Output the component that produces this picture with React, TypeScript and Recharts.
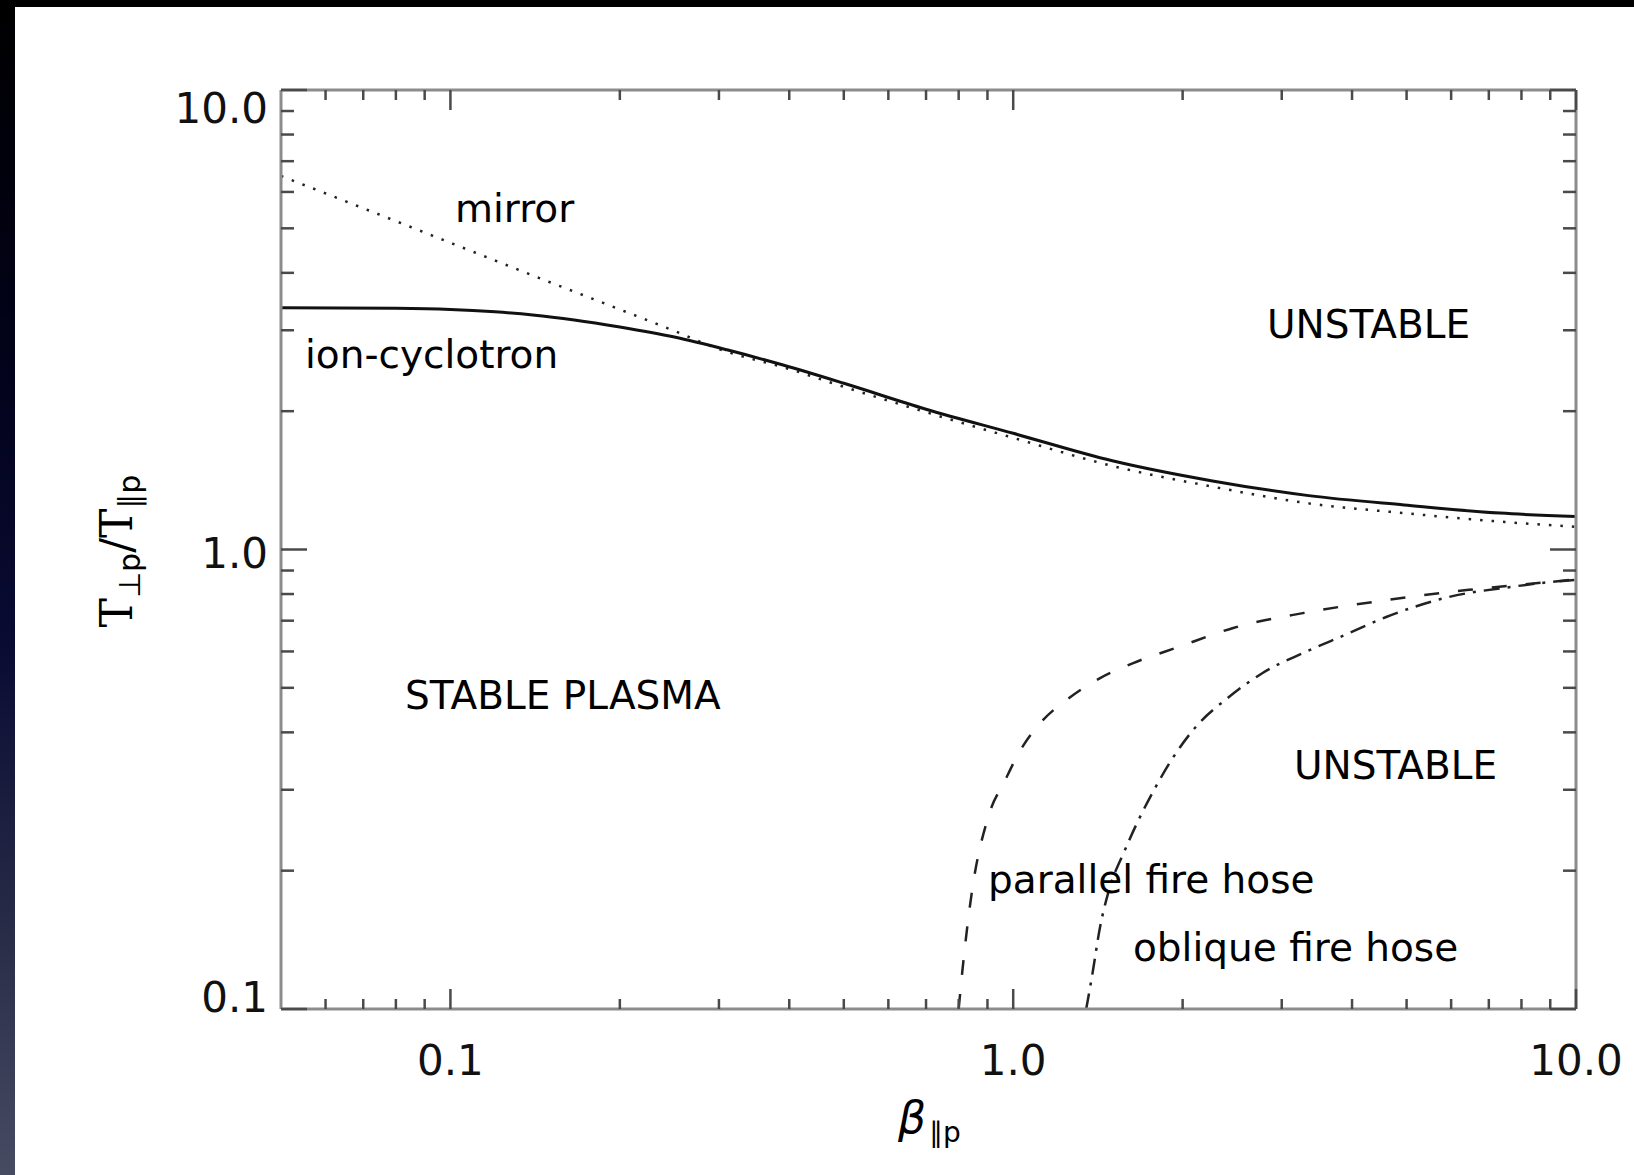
import { LineChart, Line, XAxis, YAxis } from 'recharts'

// beta_parallel_p (x) and T_perp/T_par (y) thresholds
const ionCyclotronBeta = [0.05, 0.08, 0.1, 0.12, 0.14, 0.166, 0.2, 0.25, 0.31, 0.39, 0.5, 0.7, 1.0, 1.5, 2.26, 3.35, 4.95, 7.33, 10]
const ionCyclotronRatio = [3.36, 3.35, 3.33, 3.29, 3.24, 3.16, 3.05, 2.9, 2.72, 2.52, 2.3, 2.02, 1.79, 1.56, 1.41, 1.31, 1.25, 1.2, 1.18]

const mirrorBeta = [0.05, 0.07, 0.1, 0.15, 0.2, 0.25, 0.3, 0.4, 0.5, 0.7, 1.0, 1.5, 2.26, 3.35, 4.95, 7.33, 10]
const mirrorRatio = [6.5, 5.53, 4.65, 3.82, 3.33, 2.99, 2.73, 2.47, 2.26, 1.99, 1.75, 1.52, 1.37, 1.26, 1.2, 1.15, 1.12]

const parallelHoseBeta = [0.8, 0.815, 0.844, 0.903, 0.968, 1.025, 1.117, 1.257, 1.427, 1.634, 1.97, 2.46, 3.27, 4.6, 6.45, 10]
const parallelHoseRatio = [0.1, 0.126, 0.179, 0.262, 0.315, 0.362, 0.419, 0.475, 0.525, 0.566, 0.614, 0.675, 0.727, 0.776, 0.817, 0.859]

const obliqueHoseBeta = [1.348, 1.38, 1.427, 1.475, 1.58, 1.66, 1.78, 1.91, 2.11, 2.42, 2.77, 3.27, 3.89, 4.6, 5.94, 7.66, 10]
const obliqueHoseRatio = [0.1, 0.1175, 0.151, 0.179, 0.222, 0.254, 0.3, 0.348, 0.411, 0.478, 0.538, 0.595, 0.652, 0.713, 0.788, 0.829, 0.862]

const betaTicks = [0.06, 0.07, 0.08, 0.09, 0.1, 0.2, 0.3, 0.4, 0.5, 0.6, 0.7, 0.8, 0.9, 1, 2, 3, 4, 5, 6, 7, 8, 9, 10]
const ratioTicks = [0.1, 0.2, 0.3, 0.4, 0.5, 0.6, 0.7, 0.8, 0.9, 1, 2, 3, 4, 5, 6, 7, 8, 9, 10]
const majorTicks = [0.1, 1, 10]
const tickLabels: Record<string, string> = { '0.1': '0.1', '1': '1.0', '10': '10.0' }

const zip = (xs: number[], ys: number[]) => xs.map((x, i) => ({ x, y: ys[i] }))
const ionCyclotron = zip(ionCyclotronBeta, ionCyclotronRatio)
const mirror = zip(mirrorBeta, mirrorRatio)
const parallelHose = zip(parallelHoseBeta, parallelHoseRatio)
const obliqueHose = zip(obliqueHoseBeta, obliqueHoseRatio)

const W = 1634
const H = 1175
const FONT = '"DejaVu Sans", sans-serif'
const TICK_COLOR = '#4a4a4a'
const AXIS_COLOR = '#8c8c8c'

// y offset of y-tick labels relative to the tick (IDL keeps them inside the range)
const yLabelShift: Record<string, number> = { '0.1': 3, '1': 18, '10': 33 }

function XTick({ x, y, payload, side }: any) {
  const v = payload.value
  const major = majorTicks.includes(v)
  const len = major ? 20 : 10
  const dir = side === 'bottom' ? -1 : 1
  return (
    <g>
      <line x1={x} y1={y} x2={x} y2={y + dir * len} stroke={TICK_COLOR} strokeWidth={2.5} />
      {side === 'bottom' && major && (
        <text x={x} y={y + 66} textAnchor="middle" fontFamily={FONT} fontSize={42} fill="#111">
          {tickLabels[String(v)]}
        </text>
      )}
    </g>
  )
}

function YTick({ x, y, payload, side }: any) {
  const v = payload.value
  const major = majorTicks.includes(v)
  const len = major ? 26 : 13
  const dir = side === 'left' ? 1 : -1
  return (
    <g>
      <line x1={x} y1={y} x2={x + dir * len} y2={y} stroke={TICK_COLOR} strokeWidth={2.5} />
      {side === 'left' && major && (
        <text x={x - 13} y={y + yLabelShift[String(v)]} textAnchor="end" fontFamily={FONT} fontSize={42} fill="#111">
          {tickLabels[String(v)]}
        </text>
      )}
    </g>
  )
}

const annotations = [
  { text: 'mirror', x: 455, y: 222 },
  { text: 'ion-cyclotron', x: 305, y: 368 },
  { text: 'UNSTABLE', x: 1267, y: 338 },
  { text: 'STABLE PLASMA', x: 405, y: 709 },
  { text: 'UNSTABLE', x: 1294, y: 779 },
  { text: 'parallel fire hose', x: 988, y: 893 },
  { text: 'oblique fire hose', x: 1133, y: 961 }
]

export default function App() {
  return (
    <div style={{ position: 'absolute', left: 0, top: 0, width: W, height: H, background: '#fff', overflow: 'hidden' }}>
      <div style={{ position: 'absolute', left: 0, top: 0, width: W, height: 7, background: '#000' }} />
      <div
        style={{
          position: 'absolute',
          left: 0,
          top: 0,
          width: 15,
          height: H,
          background: 'linear-gradient(#000 0%, #02021a 30%, #0a0b33 55%, #262a46 78%, #474b62 100%)'
        }}
      />
      <div style={{ position: 'absolute', left: 0, top: 0 }}>
        <LineChart width={W} height={H} margin={{ top: 70, right: 38, bottom: 146, left: 261 }}>
          <XAxis
            dataKey="x"
            type="number"
            scale="log"
            domain={[0.05, 10]}
            allowDataOverflow
            ticks={betaTicks}
            interval={0}
            height={20}
            tickSize={0}
            tickMargin={0}
            axisLine={{ stroke: AXIS_COLOR, strokeWidth: 3 }}
            tickLine={false}
            tick={(p: any) => <XTick {...p} side="bottom" />}
          />
          <XAxis
            xAxisId="top"
            orientation="top"
            dataKey="x"
            type="number"
            scale="log"
            domain={[0.05, 10]}
            allowDataOverflow
            ticks={betaTicks}
            interval={0}
            height={20}
            tickSize={0}
            tickMargin={0}
            axisLine={{ stroke: AXIS_COLOR, strokeWidth: 3 }}
            tickLine={false}
            tick={(p: any) => <XTick {...p} side="top" />}
          />
          <YAxis
            type="number"
            scale="log"
            domain={[0.1, 10]}
            allowDataOverflow
            ticks={ratioTicks}
            interval={0}
            width={20}
            tickSize={0}
            tickMargin={0}
            axisLine={{ stroke: AXIS_COLOR, strokeWidth: 3 }}
            tickLine={false}
            tick={(p: any) => <YTick {...p} side="left" />}
          />
          <YAxis
            yAxisId="right"
            orientation="right"
            type="number"
            scale="log"
            domain={[0.1, 10]}
            allowDataOverflow
            ticks={ratioTicks}
            interval={0}
            width={20}
            tickSize={0}
            tickMargin={0}
            axisLine={{ stroke: AXIS_COLOR, strokeWidth: 3 }}
            tickLine={false}
            tick={(p: any) => <YTick {...p} side="right" />}
          />
          <Line data={mirror} dataKey="y" type="monotone" stroke="#222" strokeWidth={2.5} strokeDasharray="2.5 9" dot={false} isAnimationActive={false} />
          <Line data={ionCyclotron} dataKey="y" type="monotone" stroke="#111" strokeWidth={3} dot={false} isAnimationActive={false} />
          <Line data={parallelHose} dataKey="y" type="monotone" stroke="#222" strokeWidth={2.5} strokeDasharray="15 19" dot={false} isAnimationActive={false} />
          <Line data={obliqueHose} dataKey="y" type="monotone" stroke="#222" strokeWidth={2.5} strokeDasharray="16 8 3 8" dot={false} isAnimationActive={false} />
        </LineChart>
      </div>
      <svg width={W} height={H} style={{ position: 'absolute', left: 0, top: 0, pointerEvents: 'none' }}>
        {annotations.map((a, i) => (
          <text key={i} x={a.x} y={a.y} fontFamily={FONT} fontSize={39} fill="#000">
            {a.text}
          </text>
        ))}
        <text x={898} y={1133} fontFamily={FONT} fill="#000">
          <tspan fontSize={44} fontStyle="italic">β</tspan>
          <tspan fontSize={28} dy={9} dx={3}>∥p</tspan>
        </text>
        <text x={132} y={551} transform="rotate(-90 132 551)" textAnchor="middle" fill="#000">
          <tspan fontFamily='"DejaVu Serif", serif' fontSize={44}>T</tspan>
          <tspan fontFamily={FONT} fontSize={30} dy={8}>⊥p</tspan>
          <tspan fontFamily='"DejaVu Serif", serif' fontSize={44} dy={-8}>/</tspan>
          <tspan fontFamily='"DejaVu Serif", serif' fontSize={44}>T</tspan>
          <tspan fontFamily={FONT} fontSize={30} dy={8}>∥p</tspan>
        </text>
      </svg>
    </div>
  )
}
